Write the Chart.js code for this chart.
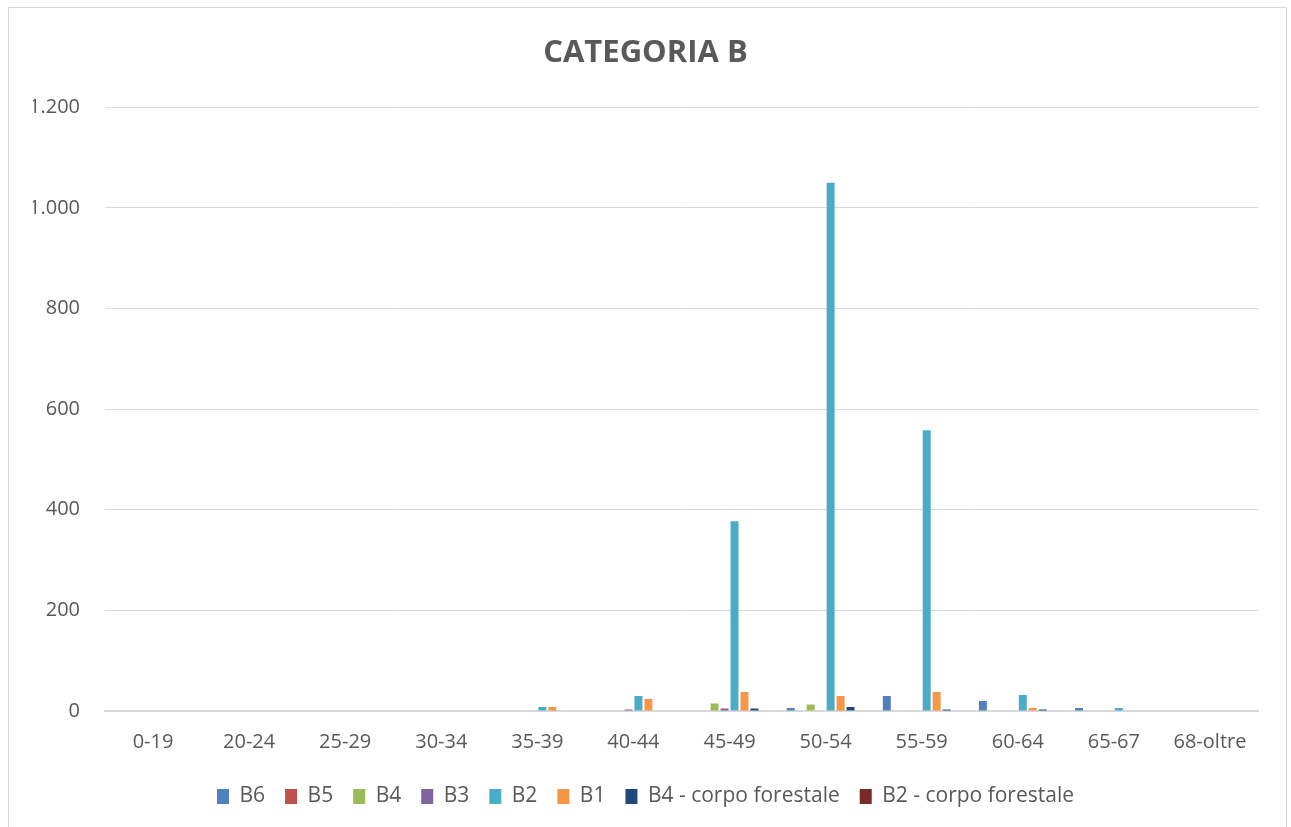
<!DOCTYPE html>
<html>
<head>
<meta charset="utf-8">
<script src="https://cdn.jsdelivr.net/npm/chart.js@4/dist/chart.umd.min.js"></script>
<style>
  html, body { margin: 0; padding: 0; background: #ffffff; }
  #frame {
    position: absolute; left: 8px; top: 7px; width: 1279px; height: 830px;
    border: 1px solid #d9d9d9; box-sizing: border-box;
  }
  #wrap { position: absolute; left: 0; top: 0; width: 1291px; height: 827px; }
</style>
</head>
<body>
<div id="frame"></div>
<div id="wrap"><canvas id="c" width="1291" height="827"></canvas></div>
<script>
// Age bands
const categories = ['0-19', '20-24', '25-29', '30-34', '35-39', '40-44', '45-49', '50-54', '55-59', '60-64', '65-67', '68-oltre'];

// Headcount per qualifica, one value per age band
const b6   = [0, 0, 0, 0, 0, 0, 0, 6, 30, 20, 6, 0];
const b5   = [0, 0, 0, 0, 0, 0, 0, 1, 1, 1, 0, 0];
const b4   = [0, 0, 0, 0, 0, 0, 15, 13, 1, 0, 0, 0];
const b3   = [0, 0, 0, 0, 0, 3, 5, 1, 1, 0, 0, 0];
const b2   = [0, 0, 0, 0, 8, 30, 377, 1050, 558, 32, 6, 0];
const b1   = [0, 0, 0, 1, 8, 24, 38, 30, 38, 6, 0, 0];
const b4cf = [0, 0, 0, 0, 0, 0, 5, 8, 3, 3, 0, 0];
const b2cf = [0, 0, 0, 0, 0, 0, 0, 0, 0, 0, 0, 0];

// Y axis ticks
const yTicks = [0, 200, 400, 600, 800, 1000, 1200];

const series = [
  { label: 'B6', data: b6, color: '#4F81BD' },
  { label: 'B5', data: b5, color: '#C0504D' },
  { label: 'B4', data: b4, color: '#9BBB59' },
  { label: 'B3', data: b3, color: '#8064A2' },
  { label: 'B2', data: b2, color: '#4BACC6' },
  { label: 'B1', data: b1, color: '#F79646' },
  { label: 'B4 - corpo forestale', data: b4cf, color: '#1F497D' },
  { label: 'B2 - corpo forestale', data: b2cf, color: '#772C2A' }
];

const FONT = '"Open Sans", "Liberation Sans", sans-serif';
const GREY = '#595959';

function fmt(v) {
  return String(v).replace(/\B(?=(\d{3})+(?!\d))/g, '.');
}

new Chart(document.getElementById('c'), {
  type: 'bar',
  data: {
    labels: categories,
    datasets: series.map(s => ({
      label: s.label,
      data: s.data,
      backgroundColor: s.color,
      borderWidth: 0,
      categoryPercentage: 0.83,
      barPercentage: 0.8
    }))
  },
  options: {
    responsive: false,
    animation: false,
    devicePixelRatio: 1,
    layout: { padding: { left: 33, right: 33, top: 35, bottom: 10 } },
    plugins: {
      title: {
        display: true,
        text: 'CATEGORIA B',
        color: GREY,
        font: { family: FONT, size: 31, weight: 'bold' },
        padding: { top: 0, bottom: 35 }
      },
      legend: {
        position: 'bottom',
        labels: {
          color: GREY,
          font: { family: FONT, size: 21 },
          boxWidth: 12,
          boxHeight: 15,
          padding: 20
        }
      },
      tooltip: { enabled: false }
    },
    scales: {
      x: {
        grid: { display: false },
        border: { color: '#d9d9d9', width: 2 },
        ticks: { color: GREY, font: { family: FONT, size: 20 }, padding: 11.5, maxRotation: 0 }
      },
      y: {
        min: 0,
        max: 1200,
        afterBuildTicks: axis => { axis.ticks = yTicks.map(v => ({ value: v })); },
        afterFit: axis => { axis.width = 72; },
        grid: { color: '#d9d9d9', lineWidth: 1, drawTicks: false },
        border: { display: false },
        ticks: {
          color: GREY,
          font: { family: FONT, size: 20 },
          padding: 25,
          callback: v => fmt(v)
        }
      }
    }
  }
});
</script>
</body>
</html>
